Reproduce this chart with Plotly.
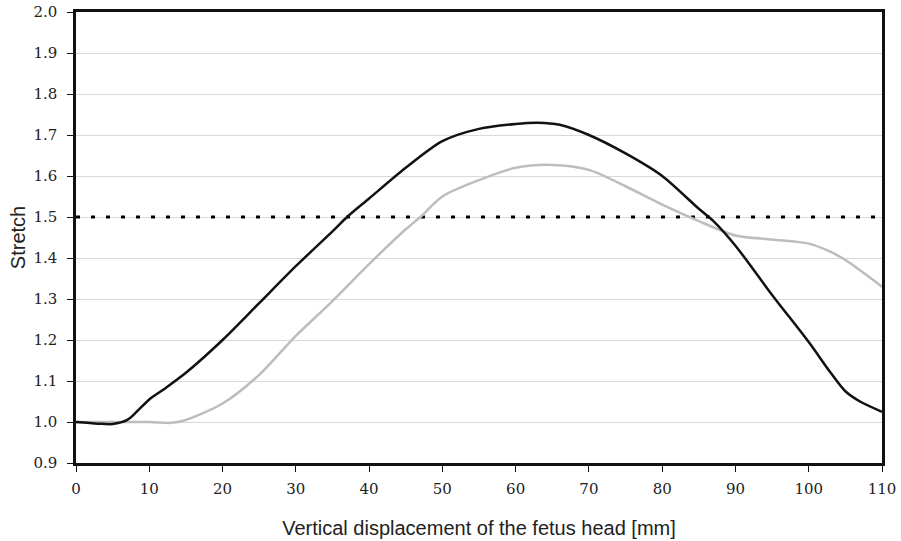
import plotly.graph_objects as go

# Data
x_black = [0, 3, 5, 7, 8, 10, 12, 15, 20, 25, 30, 35, 37, 40, 45, 50, 55, 60, 63, 66, 70, 75, 80, 85, 87, 90, 95, 100, 103, 105, 107, 110]
y_black = [1.0, 0.996, 0.995, 1.005, 1.02, 1.055, 1.08, 1.12, 1.2, 1.29, 1.38, 1.465, 1.5, 1.545, 1.62, 1.685, 1.715, 1.727, 1.73, 1.725, 1.70, 1.655, 1.60, 1.52, 1.49, 1.43, 1.31, 1.195, 1.12, 1.075, 1.05, 1.025]

x_gray = [0, 5, 10, 13, 15, 20, 25, 30, 35, 40, 45, 47, 50, 55, 60, 65, 70, 75, 80, 85, 90, 95, 100, 103, 105, 107, 110]
y_gray = [1.0, 1.0, 1.0, 0.998, 1.005, 1.045, 1.115, 1.21, 1.295, 1.385, 1.47, 1.5, 1.55, 1.59, 1.62, 1.627, 1.615, 1.575, 1.53, 1.49, 1.455, 1.445, 1.435, 1.415, 1.395, 1.37, 1.33]

x_thresh = [0, 110]
y_thresh = [1.5, 1.5]

x_ticks = [0, 10, 20, 30, 40, 50, 60, 70, 80, 90, 100, 110]
y_ticks = [0.9, 1.0, 1.1, 1.2, 1.3, 1.4, 1.5, 1.6, 1.7, 1.8, 1.9, 2.0]

fig = go.Figure()
fig.add_trace(go.Scatter(x=x_thresh, y=y_thresh, mode="lines",
                         line=dict(color="black", width=3, dash="4px,11px"),
                         showlegend=False, hoverinfo="skip"))
fig.add_trace(go.Scatter(x=x_gray, y=y_gray, mode="lines",
                         line=dict(color="#bdbdbd", width=2.5, shape="spline", smoothing=0.8),
                         showlegend=False))
fig.add_trace(go.Scatter(x=x_black, y=y_black, mode="lines",
                         line=dict(color="#111111", width=2.5, shape="spline", smoothing=0.8),
                         showlegend=False))

serif = "DejaVu Serif, Liberation Serif, Noto Serif, serif"
tick_font = dict(family=serif, size=15, color="#222")
title_font = dict(family="Liberation Sans", size=20, color="#222")

fig.update_layout(
    width=901, height=541,
    template="none",
    font=dict(family=serif, size=15, color="#222"),
    margin=dict(l=76, r=19, t=12, b=78),
    plot_bgcolor="white", paper_bgcolor="white",
    xaxis=dict(range=[0, 110], tickmode="array", tickvals=x_ticks, ticktext=[str(v) for v in x_ticks],
               showgrid=False, zeroline=False, showline=True, linecolor="#111", linewidth=2.5,
               mirror=True, ticks="outside", ticklen=6, tickwidth=1, tickcolor="#111",
               tickfont=tick_font, automargin=False, ticklabelstandoff=4,
               title=dict(text="Vertical displacement of the fetus head [mm]", font=title_font)),
    yaxis=dict(range=[0.9, 2.0], tickmode="array", tickvals=y_ticks, ticktext=[f"{v:.1f}" for v in y_ticks],
               showgrid=True, gridcolor="#d9d9d9", gridwidth=1, zeroline=False,
               showline=True, linecolor="#111", linewidth=2.5, mirror=True,
               ticks="outside", ticklen=6, tickwidth=1, tickcolor="#111",
               tickfont=tick_font, automargin=False, ticklabelstandoff=7,
               title=dict(text="Stretch", font=title_font)),
)

fig.write_html("out.html")
